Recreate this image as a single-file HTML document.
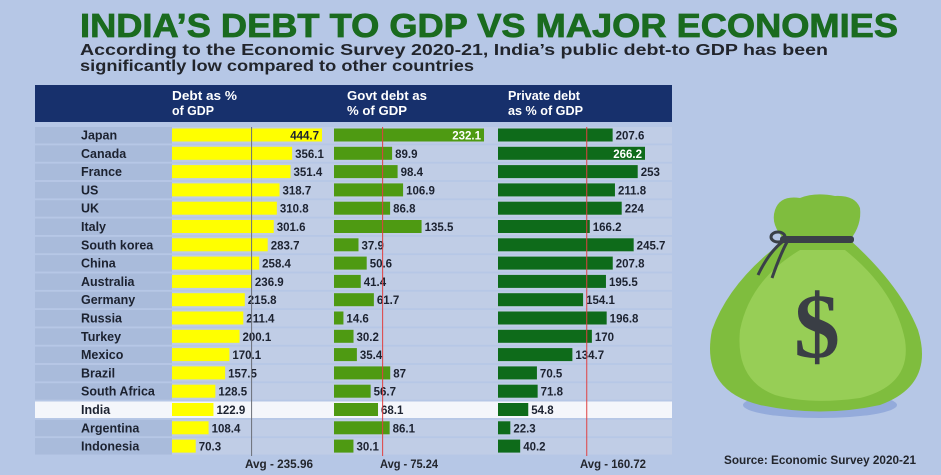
<!DOCTYPE html>
<html><head><meta charset="utf-8">
<style>
html,body{margin:0;padding:0;background:#b6c7e6;}
svg{display:block;font-family:"Liberation Sans",sans-serif;}
</style></head>
<body>
<svg id="chart" width="941" height="475" viewBox="0 0 941 475">
  <rect x="0" y="0" width="941" height="475" fill="#b6c7e6"/>
  <text x="80" y="37" font-size="33" font-weight="bold" fill="#1a6b1f" stroke="#1a6b1f" stroke-width="0.8" textLength="818" lengthAdjust="spacingAndGlyphs">INDIA’S DEBT TO GDP VS MAJOR ECONOMIES</text>
  <text x="80" y="55" font-size="16" font-weight="bold" fill="#22252c" textLength="748" lengthAdjust="spacingAndGlyphs">According to the Economic Survey 2020-21, India’s public debt-to GDP has been</text>
  <text x="80" y="71" font-size="16" font-weight="bold" fill="#22252c" textLength="394" lengthAdjust="spacingAndGlyphs">significantly low compared to other countries</text>
  <rect x="35" y="85" width="637" height="37" fill="#17306c"/>
  <g font-size="13" font-weight="bold" fill="#ffffff">
    <text x="172" y="100" textLength="65" lengthAdjust="spacingAndGlyphs">Debt as %</text>
    <text x="172" y="115" textLength="42" lengthAdjust="spacingAndGlyphs">of GDP</text>
    <text x="347" y="100" textLength="80" lengthAdjust="spacingAndGlyphs">Govt debt as</text>
    <text x="347" y="115" textLength="60" lengthAdjust="spacingAndGlyphs">% of GDP</text>
    <text x="508" y="100" textLength="72" lengthAdjust="spacingAndGlyphs">Private debt</text>
    <text x="508" y="115" textLength="75" lengthAdjust="spacingAndGlyphs">as % of GDP</text>
  </g>
  <g id="rows"></g>
  <g id="bag">
    <ellipse cx="820" cy="405" rx="77" ry="13" fill="#94abdb"/>
    <path d="M775,210 Q780,195 800,198 Q815,192 835,196 Q855,195 860,208 Q862,225 850,240 L785,240 Q770,225 775,210Z" fill="#7fbd3e"/>
    <path d="M785,240 L850,240 Q900,285 918,330 Q935,385 880,405 Q820,418 760,405 Q700,390 712,330 Q730,280 785,240Z" fill="#7fbd3e"/>
    <path d="M800,250 L845,250 Q895,290 905,340 Q912,385 860,398 Q810,405 775,395 Q735,380 740,330 Q750,280 800,250Z" fill="#97ce56"/>
    <rect x="780" y="236" width="74" height="7" rx="3" fill="#3a4048"/>
    <path d="M785,240 Q770,250 758,275 M787,242 Q780,255 772,278" stroke="#3a4048" stroke-width="3" fill="none"/>
    <ellipse cx="778" cy="237" rx="7" ry="5" fill="none" stroke="#3a4048" stroke-width="3"/>
    <text x="817" y="357" font-size="92" font-family="Liberation Serif,serif" font-weight="bold" fill="#3a3e45" text-anchor="middle">$</text>
  </g>
  <g font-size="12" font-weight="bold" fill="#22252c">
    <text x="245" y="468" textLength="68" lengthAdjust="spacingAndGlyphs">Avg - 235.96</text>
    <text x="380" y="468" textLength="58" lengthAdjust="spacingAndGlyphs">Avg - 75.24</text>
    <text x="580" y="468" textLength="66" lengthAdjust="spacingAndGlyphs">Avg - 160.72</text>
  </g>
  <text x="724" y="464" font-size="12" font-weight="bold" fill="#22252c" textLength="192" lengthAdjust="spacingAndGlyphs">Source: Economic Survey 2020-21</text>
</svg>
<script>
const countries = ["Japan","Canada","France","US","UK","Italy","South korea","China","Australia","Germany","Russia","Turkey","Mexico","Brazil","South Africa","India","Argentina","Indonesia"];
const totalDebt = [444.7,356.1,351.4,318.7,310.8,301.6,283.7,258.4,236.9,215.8,211.4,200.1,170.1,157.5,128.5,122.9,108.4,70.3];
const govtDebt = [232.1,89.9,98.4,106.9,86.8,135.5,37.9,50.6,41.4,61.7,14.6,30.2,35.4,87,56.7,68.1,86.1,30.1];
const privateDebt = [207.6,266.2,253,211.8,224,166.2,245.7,207.8,195.5,154.1,196.8,170,134.7,70.5,71.8,54.8,22.3,40.2];
const totalLabels = ["444.7","356.1","351.4","318.7","310.8","301.6","283.7","258.4","236.9","215.8","211.4","200.1","170.1","157.5","128.5","122.9","108.4","70.3"];
const govtLabels = ["232.1","89.9","98.4","106.9","86.8","135.5","37.9","50.6","41.4","61.7","14.6","30.2","35.4","87","56.7","68.1","86.1","30.1"];
const privateLabels = ["207.6","266.2","253","211.8","224","166.2","245.7","207.8","195.5","154.1","196.8","170","134.7","70.5","71.8","54.8","22.3","40.2"];
const averages = [235.96,75.24,160.72];

const NS="http://www.w3.org/2000/svg";
const g=document.getElementById('rows');
const rowY=i=>135+i*18.3;
const xTotal=v=>172+v*0.3373;
const xGovt=v=>334+v*0.6463;
const xPriv=v=>498+v*0.5522;
function mk(tag,attrs,parent){const e=document.createElementNS(NS,tag);for(const k in attrs)e.setAttribute(k,attrs[k]);(parent||g).appendChild(e);return e;}

countries.forEach((c,i)=>{
  const y=rowY(i);
  const india=c==="India";
  const stripe=mk('rect',{x:35,y:y-8,width:637,height:16.5,fill:india?'#f4f6fb':'#c0cde6'});
  
  
  if(!india){const l=mk('rect',{x:35,y:y-8,width:137,height:16.5,fill:'#a9bbdb'});
    
    }
  const t=mk('text',{x:81,y:y+4.5,'font-size':12.5,'font-weight':'bold',fill:'#1c2230'});
  t.textContent=c;
  
  
  const series=[[totalDebt,totalLabels,xTotal,172,'#ffff00','#1c2230',0],[govtDebt,govtLabels,xGovt,334,'#4e9a12','#ffffff',1],[privateDebt,privateLabels,xPriv,498,'#0e6b1a','#ffffff',2]];
  series.forEach(([vals,labs,sx,x0,col,inCol,si])=>{
    const x1=sx(vals[i]);
    const b=mk('rect',{x:x0,y:y-6.5,width:x1-x0,height:13,fill:col});
    
    
    const max=Math.max(...vals);
    const inside=vals[i]===max;
    const tx=mk('text',{x:inside?x1-3:x1+3,y:y+4.5,'font-size':11.5,'font-weight':'bold',fill:inside?inCol:'#1c2230','text-anchor':inside?'end':'start'});
    tx.textContent=labs[i];
    
    
  });
});
[[xTotal,'#6b6f77'],[xGovt,'#e04040'],[xPriv,'#e04040']].forEach(([sx,col],k)=>{
  const x=sx(averages[k]);
  const l=mk('line',{x1:x,x2:x,y1:127,y2:456,stroke:col,'stroke-width':1});
  
  
});
</script>
</body></html>
